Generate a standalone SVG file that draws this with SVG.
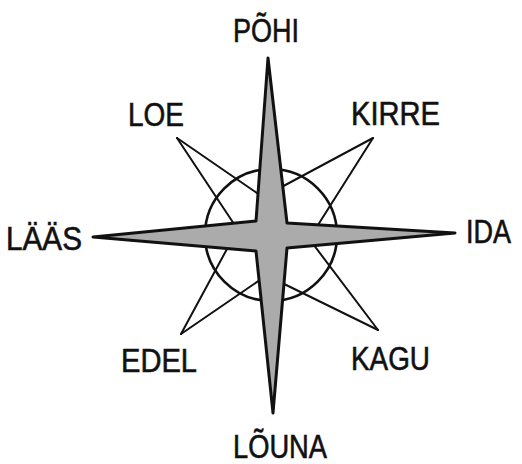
<svg xmlns="http://www.w3.org/2000/svg" width="522" height="464" viewBox="0 0 522 464">
<style>
.lbl{font-family:"Liberation Sans",Arial,sans-serif;font-size:33px;fill:#111;stroke:#111;stroke-width:0.6}
.thin{stroke:#111;stroke-width:2;fill:none;stroke-linecap:round}
.ring{stroke:#111;stroke-width:2.6;fill:none}
.star{fill:#ababab;stroke:#111;stroke-width:3;stroke-linejoin:round}
</style>
<rect width="522" height="464" fill="#fff"/>
<g id="connectors">
<line class="thin" x1="177" y1="138" x2="242" y2="236"/>
<line class="thin" x1="177" y1="138" x2="270" y2="202"/>
<line class="thin" x1="373" y1="138" x2="276" y2="190"/>
<line class="thin" x1="373" y1="138" x2="311" y2="236"/>
<line class="thin" x1="181" y1="334" x2="234" y2="236"/>
<line class="thin" x1="181" y1="334" x2="270" y2="273"/>
<line class="thin" x1="378" y1="330" x2="307" y2="236"/>
<line class="thin" x1="378" y1="330" x2="276" y2="280"/>
</g>
<g id="circle"><circle class="ring" cx="271" cy="235" r="66"/></g>
<g id="star">
<polygon class="star" points="268,58 287,223 455,233 287,248 273,413 256,251 93,237 256,221"/>
</g>
<g id="n"><text class="lbl" x="233" y="42" textLength="66" lengthAdjust="spacingAndGlyphs">PÕHI</text></g>
<g id="ne"><text class="lbl" x="351" y="125" textLength="89" lengthAdjust="spacingAndGlyphs">KIRRE</text></g>
<g id="e"><text class="lbl" x="466" y="243" textLength="45" lengthAdjust="spacingAndGlyphs">IDA</text></g>
<g id="se"><text class="lbl" x="351" y="370" textLength="79" lengthAdjust="spacingAndGlyphs">KAGU</text></g>
<g id="s"><text class="lbl" x="233" y="458" textLength="94" lengthAdjust="spacingAndGlyphs">LÕUNA</text></g>
<g id="sw"><text class="lbl" x="121" y="372" textLength="76" lengthAdjust="spacingAndGlyphs">EDEL</text></g>
<g id="w"><text class="lbl" x="6" y="250" textLength="76" lengthAdjust="spacingAndGlyphs">LÄÄS</text></g>
<g id="nw"><text class="lbl" x="128" y="126" textLength="56" lengthAdjust="spacingAndGlyphs">LOE</text></g>
</svg>
